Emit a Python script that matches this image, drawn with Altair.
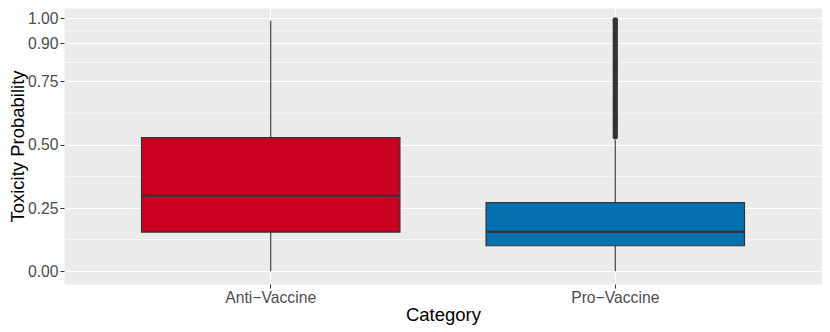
import altair as alt
import pandas as pd

# Box statistics
categories = ["Anti\u2212Vaccine", "Pro\u2212Vaccine"]
lower_whisker = [0.0, 0.0]
q1 = [0.155, 0.101]
median = [0.298, 0.156]
q3 = [0.528, 0.271]
upper_whisker = [0.99, 0.52]
fills = ["#CA0020", "#0571B0"]

# Pro-Vaccine outliers (dense column of points)
outliers_pro = [0.532, 0.54, 0.55, 0.56, 0.57, 0.58, 0.59, 0.60, 0.61, 0.62,
                0.63, 0.64, 0.65, 0.66, 0.67, 0.68, 0.69, 0.70, 0.71, 0.72,
                0.73, 0.74, 0.75, 0.76, 0.77, 0.78, 0.79, 0.80, 0.81, 0.82,
                0.83, 0.84, 0.85, 0.86, 0.87, 0.88, 0.89, 0.90, 0.91, 0.92,
                0.93, 0.94, 0.95, 0.96, 0.97, 0.98, 0.99, 0.993]

major_ticks = [0.0, 0.25, 0.5, 0.75, 0.9, 1.0]
minor_ticks = [0.125, 0.375, 0.625, 0.825, 0.95]

box_df = pd.DataFrame({
    "Category": categories,
    "lo": lower_whisker, "q1": q1, "med": median, "q3": q3, "hi": upper_whisker,
})
out_df = pd.DataFrame({"Category": [categories[1]] * len(outliers_pro), "val": outliers_pro})
minor_df = pd.DataFrame({"m": minor_ticks})

xscale = alt.Scale(domain=categories, paddingInner=0, paddingOuter=0.1)
yscale = alt.Scale(domain=[-0.05, 1.04], nice=False, zero=False)

common_axis = dict(grid=True, gridColor="white", gridWidth=1.1,
                   ticks=True, tickColor="#333333", tickSize=4, tickWidth=1,
                   labelColor="#4D4D4D", labelFontSize=15.7,
                   labelFont="Liberation Sans", titleFont="Liberation Sans",
                   titleFontSize=18.5, titleColor="black", titleFontWeight="normal",
                   domain=False)

xenc = alt.X("Category:N", scale=xscale, sort=categories,
             axis=alt.Axis(title="Category", labelAngle=0, bandPosition=0.5,
                           labelPadding=2, titlePadding=1, **common_axis))

yaxis = alt.Axis(title="Toxicity Probability", values=major_ticks, format=".2f",
                 labelPadding=2, titlePadding=0, **common_axis)

minor = alt.Chart(minor_df).mark_rule(color="white", strokeWidth=0.6).encode(
    y=alt.Y("m:Q", scale=yscale, axis=yaxis),
)

whisk = alt.Chart(box_df).mark_rule(color="#333333", strokeWidth=1.1).encode(
    x=xenc,
    y=alt.Y("lo:Q", scale=yscale, axis=yaxis),
    y2="hi:Q",
)

boxes = alt.Chart(box_df).mark_bar(width={"band": 0.75}, stroke="#333333",
                                   strokeWidth=1.2).encode(
    x=xenc,
    y=alt.Y("q1:Q", scale=yscale, axis=yaxis),
    y2="q3:Q",
    fill=alt.Fill("Category:N", scale=alt.Scale(domain=categories, range=fills), legend=None),
)

med = alt.Chart(box_df).mark_tick(color="#333333", thickness=2.4, size=258, opacity=1).encode(
    x=xenc,
    y=alt.Y("med:Q", scale=yscale, axis=yaxis),
)

pts = alt.Chart(out_df).mark_circle(color="#333333", size=28, opacity=1).encode(
    x=xenc,
    y=alt.Y("val:Q", scale=yscale, axis=yaxis),
)

chart = alt.layer(minor, whisk, boxes, med, pts).properties(
    width=758, height=276,
    padding={"left": 56, "top": 0, "right": 0, "bottom": 42},
    autosize=alt.AutoSizeParams(type="none"),
).configure(
    font="Liberation Sans",
    background="white",
    view=alt.ViewConfig(fill="#EBEBEB", stroke="transparent"),
)

chart.save("out.html", embed_options={"renderer": "svg", "actions": False})
